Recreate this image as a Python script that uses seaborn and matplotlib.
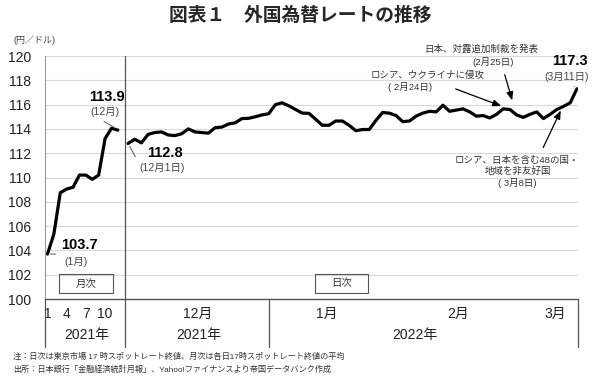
import numpy as np
import pandas as pd
import seaborn as sns
import matplotlib.pyplot as plt
from matplotlib.patches import Rectangle

# monthly averages 2021 (Jan..Dec)
monthly_rate = [103.7, 105.35, 108.75, 109.05, 109.2, 110.2, 110.2, 109.85, 110.2, 113.2, 114.05, 113.9]
month_ticks = ['1', '4', '7', '10']

# daily 17:00 rates, Dec 2021 - Mar 11 2022
dec_rate = [112.8, 113.15, 112.85, 113.55, 113.7, 113.75, 113.5, 113.45, 113.6, 114.0, 113.75,
            113.7, 113.65, 114.1, 114.15, 114.4, 114.5, 114.85, 114.87, 115.0, 115.15, 115.25]
jan_rate = [116.0, 116.15, 115.9, 115.6, 115.3, 115.28, 114.8, 114.3, 114.3, 114.65, 114.65,
            114.3, 113.85, 113.95, 113.95, 114.7, 115.35, 115.3, 115.1]
feb_rate = [114.6, 114.65, 115.05, 115.3, 115.45, 115.4, 115.95, 115.45, 115.55, 115.65, 115.4,
            115.05, 115.1, 114.9, 115.2, 115.65, 115.6, 115.15]
mar_rate = [114.95, 115.2, 115.4, 114.85, 115.2, 115.6, 115.85, 116.15, 117.3]
daily_month_labels = ['12月', '1月', '2月', '3月']

daily_rate = dec_rate + jan_rate + feb_rate + mar_rate

# x layout: one unit = one trading day, monthly points slightly tighter
mon_x = 0.37 + np.arange(len(monthly_rate)) * 0.955
day_x = 12.39 + np.arange(len(daily_rate))
df_m = pd.DataFrame({'x': mon_x, 'rate': monthly_rate})
df_d = pd.DataFrame({'x': day_x, 'rate': daily_rate})

sns.set_style('white')
plt.rcParams['font.family'] = ['Liberation Sans', 'Noto Sans CJK JP']

fig = plt.figure(figsize=(6, 3.81), dpi=100)
ax = fig.add_axes([0.075, 0.2152, 0.8883, 0.6378])

sns.lineplot(data=df_m, x='x', y='rate', ax=ax, color='black', lw=2.3)
sns.lineplot(data=df_d, x='x', y='rate', ax=ax, color='black', lw=2.3)

ax.set_xlim(0, 79.55)
ax.set_ylim(100, 120)
ax.set_yticks(np.arange(100, 121, 2))
ax.grid(axis='y', color='#d9d9d9', lw=0.8)
ax.set_axisbelow(True)
for s in ['top', 'right']:
    ax.spines[s].set_visible(False)
ax.spines['left'].set_color('#999999')
ax.spines['left'].set_linewidth(0.8)
ax.spines['bottom'].set_color('#555555')
ax.spines['bottom'].set_linewidth(1)
ax.tick_params(axis='y', labelsize=10, colors='#222222', length=3, direction='in', pad=10)
ax.set_xlabel('')
ax.set_ylabel('')

# x tick labels (month row)
tick_pos = list(mon_x[[0, 3, 6, 9]]) + [22.8, 42.1, 61.6, 76.1]
ax.set_xticks(tick_pos, month_ticks + daily_month_labels)
ax.tick_params(axis='x', labelsize=10, colors='#222222', length=0, pad=6)

# table lines below the axis
bottom = 96.05
line_kw = dict(color='#555555', lw=0.9, clip_on=False)
ax.plot([11.94, 11.94], [120, bottom], **line_kw)
for xv in [0, 33.43, 79.55]:
    ax.plot([xv, xv], [100, bottom], **line_kw)
for xv, lab in [(6.27, '2021年'), (22.99, '2021年'), (55.2, '2022年')]:
    ax.text(xv, 97.04, lab, ha='center', va='center', fontsize=10, color='#222222')

# 月次 / 日次 boxes
for x0, x1, lab in [(2.09, 10.15, '月次'), (40.3, 48.2, '日次')]:
    ax.add_patch(Rectangle((x0, 100.5), x1 - x0, 1.56, fill=False, ec='#555555', lw=0.8))
    ax.text((x0 + x1) / 2, 101.28, lab, ha='center', va='center', fontsize=7.5, color='#333333')

# value labels
bold = dict(fontsize=10.5, fontweight='bold', ha='center', va='center', color='black')
sub = dict(fontsize=7.5, ha='center', va='center', color='#444444')
lead = dict(arrowstyle='-', color='#555555', lw=0.7)
ax.text(9.18, 116.63, '113.9', **bold)
ax.text(8.96, 115.39, '(12月)', **sub)
ax.annotate('', xy=(10.7, 114.0), xytext=(8.46, 114.73), arrowprops=lead)
ax.text(5.1, 104.44, '103.7', **bold)
ax.text(4.63, 103.07, '(1月)', **sub)
ax.annotate('', xy=(0.4, 103.7), xytext=(1.99, 103.7), arrowprops=lead)
ax.text(17.9, 112.04, '112.8', **bold)
ax.text(17.4, 110.76, '(12月1日)', **sub)
ax.annotate('', xy=(12.45, 112.75), xytext=(13.69, 111.5), arrowprops=lead)
ax.text(78.36, 119.59, '117.3', **bold)
ax.text(77.9, 118.27, '(3月11日)', **sub)
ax.annotate('', xy=(79.35, 117.35), xytext=(78.6, 117.6), arrowprops=lead)

# event annotations
ev = dict(fontsize=6.8, ha='center', va='center', color='#333333')
arr = dict(arrowstyle='-|>,head_length=0.5,head_width=0.2', color='black', lw=0.9)
ax.text(65.2, 120.58, '日本、対露追加制裁を発表', **ev)
ax.text(66.9, 119.5, '(2月25日)', **ev)
ax.annotate('', xy=(69.85, 116.13), xytext=(68.5, 118.68), arrowprops=arr)
ax.text(57.16, 118.44, 'ロシア、ウクライナに侵攻', **ev)
ax.text(54.5, 117.45, '( 2月24日)', **ev)
ax.annotate('', xy=(68.5, 115.8), xytext=(60.9, 117.37), arrowprops=arr)
ax.text(70.45, 111.44, 'ロシア、日本を含む48の国・', **ev)
ax.text(70.6, 110.53, '地域を非友好国', **ev)
ax.text(70.45, 109.55, '( 3月8日)', **ev)
ax.annotate('', xy=(77.16, 115.72), xytext=(74.18, 112.26), arrowprops=arr)

# title, unit, notes
fig.text(0.5, 1 - 15 / 381, '図表１　外国為替レートの推移', ha='center', va='center',
         fontsize=13.5, fontweight='bold', family=['Noto Sans CJK JP'])
fig.text(13 / 600, 1 - 40 / 381, '(円／ドル)', ha='left', va='center', fontsize=6.5, color='#444444')
fig.text(13 / 600, 1 - 357 / 381, '注：日次は東京市場 17 時スポットレート終値、月次は各日17時スポットレート終値の平均',
         ha='left', va='center', fontsize=5.9, color='#333333')
fig.text(13 / 600, 1 - 370 / 381, '出所：日本銀行「金融経済統計月報」、Yahoo!ファイナンスより帝国データバンク作成',
         ha='left', va='center', fontsize=5.9, color='#333333')

fig.savefig('out.png', dpi=100)
